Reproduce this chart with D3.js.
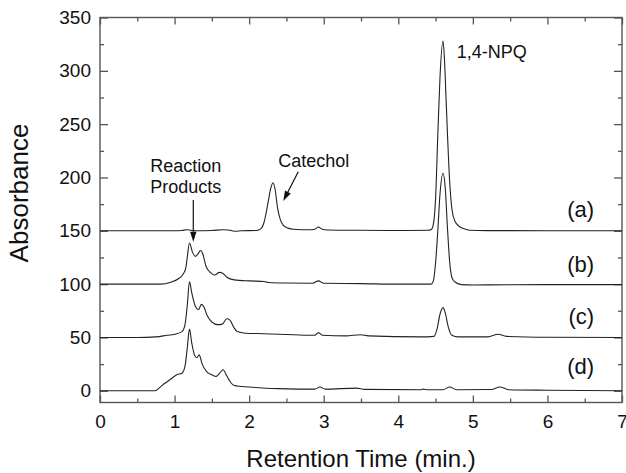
<!DOCTYPE html>
<html>
<head>
<meta charset="utf-8">
<script src="https://cdn.jsdelivr.net/npm/d3@7"></script>
<style>
  html, body { margin: 0; padding: 0; background: #fff; }
  svg { display: block; }
  text { font-family: "Liberation Sans", Arial, Helvetica, sans-serif; fill: #111; }
</style>
</head>
<body>
<svg id="chart" width="626" height="473"></svg>
<script>
// ---- data (retention time in min, absorbance) ----
const traceA = [[0,150],[0.5,150],[1.0,150],[1.1,150.3],[1.16,151],[1.22,150.5],[1.3,150],[1.5,150.3],[1.65,151],[1.72,150.8],[1.8,149.6],[1.9,150],[2.1,150.3],[2.16,152],[2.2,158],[2.25,175],[2.29,190],[2.32,195],[2.35,188],[2.38,172],[2.42,160],[2.46,155],[2.52,152.5],[2.6,151.5],[2.8,151],[2.88,151.5],[2.93,153.5],[2.98,151.5],[3.05,150.8],[3.5,150.5],[4.0,150.3],[4.4,150.5],[4.44,151],[4.47,156],[4.5,180],[4.53,240],[4.56,295],[4.6,328],[4.62,310],[4.64,275],[4.66,240],[4.69,195],[4.72,170],[4.76,159],[4.82,154],[4.9,151.5],[4.96,150.5],[5.2,150.2],[6,150],[7,150]];
const traceB = [[0,100],[0.5,100],[0.8,100],[0.95,101.8],[1.05,105],[1.12,110],[1.15,115],[1.17,125],[1.2,138.5],[1.24,130],[1.28,126],[1.31,128],[1.35,131.5],[1.38,128],[1.42,117],[1.48,111],[1.54,108.5],[1.6,111],[1.64,110.5],[1.7,106.5],[1.8,104],[2.0,103],[2.2,102.5],[2.26,101.5],[2.5,101],[2.85,100.8],[2.93,103],[3.0,100.8],[3.5,100.5],[4.0,100],[4.44,100],[4.47,103],[4.5,120],[4.53,150],[4.56,185],[4.6,204],[4.63,190],[4.66,152],[4.69,120],[4.72,106],[4.76,102],[4.85,99.5],[5.0,99.2],[5.2,99.3],[6,99.5],[7,99.5]];
const traceC = [[0,50],[0.5,50],[0.75,50.5],[0.9,52],[1.0,53],[1.1,55.5],[1.14,62],[1.17,80],[1.2,102.5],[1.23,92],[1.28,79],[1.32,76],[1.36,81],[1.39,79],[1.44,70],[1.5,64.5],[1.58,62],[1.64,62.5],[1.7,67.5],[1.74,66.5],[1.79,60],[1.84,55.5],[1.95,54],[2.2,53.5],[2.6,52.5],[2.88,52],[2.93,54.5],[2.98,52],[3.3,51.5],[3.49,52.5],[3.6,51.5],[4.3,50.5],[4.48,51],[4.52,58],[4.56,72],[4.6,78],[4.63,73],[4.67,60],[4.72,52],[4.8,50.5],[5.2,50.5],[5.34,53],[5.45,51],[6,50.2],[7,50]];
const traceD = [[0,0],[0.5,0],[0.74,0],[0.8,3],[0.87,7],[0.95,11],[1.03,15],[1.1,16.5],[1.14,23],[1.17,40],[1.2,57.8],[1.23,45],[1.27,33],[1.3,31],[1.33,33.7],[1.37,25],[1.43,18],[1.5,15],[1.56,13.5],[1.61,17],[1.65,19.7],[1.7,14],[1.75,8],[1.8,5],[2.0,3.5],[2.4,2],[2.88,1.5],[2.95,3.5],[3.02,1.5],[3.44,2.5],[3.55,1.3],[4.3,1],[4.33,1.5],[4.4,1],[4.6,1],[4.69,3.5],[4.78,1],[5.25,1.2],[5.36,3.5],[5.48,1],[6,0.5],[7,0]];

const traces = [traceA, traceB, traceC, traceD];
const traceLabels = ["(a)", "(b)", "(c)", "(d)"];
const traceLabelPos = [[6.625,163],[6.625,111.4],[6.625,62.9],[6.625,16]];

const xTicks = [0,1,2,3,4,5,6,7];
const xMinorTicks = [0.5,1.5,2.5,3.5,4.5,5.5,6.5];
const yTicks = [0,50,100,150,200,250,300,350];
const yMinorTicks = [25,75,125,175,225,275,325];

const xTitle = "Retention Time (min.)";
const yTitle = "Absorbance";

// annotations in data units
const annReaction = {lines:["Reaction","Products"], t:1.149, v:[204.9,185.2], arrowFrom:[1.251,178.9], arrowTo:[1.251,139.8]};
const annCatechol = {text:"Catechol", t:2.391, v:210.1, arrowFrom:[2.659,205.4], arrowTo:[2.458,178]};
const annNPQ = {text:"1,4-NPQ", t:4.783, v:312};

// ---- layout ----
const svg = d3.select("#chart");
const x = d3.scaleLinear().domain([0,7]).range([100,622]);
const y = d3.scaleLinear().domain([-11,350]).range([402.5,17.5]);
const frameColor = "#555";

// frame
svg.append("rect")
  .attr("x", x(0)).attr("y", y(350))
  .attr("width", x(7)-x(0)).attr("height", y(-11)-y(350))
  .attr("fill","none").attr("stroke",frameColor).attr("stroke-width",1.4);

function styleAxis(g){
  g.select(".domain").remove();
  g.selectAll(".tick line").attr("stroke",frameColor).attr("stroke-width",1.3);
  g.selectAll("text").attr("font-size","19px").attr("fill","#111")
    .attr("font-family","'Liberation Sans', Arial, sans-serif");
}

// bottom
svg.append("g").attr("transform",`translate(0,${y(-11)})`)
  .call(d3.axisBottom(x).tickValues(xTicks).tickSize(-7).tickPadding(12).tickFormat(d3.format("d")))
  .call(styleAxis);
svg.append("g").attr("transform",`translate(0,${y(-11)})`)
  .call(d3.axisBottom(x).tickValues(xMinorTicks).tickSize(-4).tickFormat(""))
  .call(styleAxis);
// top
svg.append("g").attr("transform",`translate(0,${y(350)})`)
  .call(d3.axisTop(x).tickValues(xTicks).tickSize(-7).tickFormat(""))
  .call(styleAxis);
svg.append("g").attr("transform",`translate(0,${y(350)})`)
  .call(d3.axisTop(x).tickValues(xMinorTicks).tickSize(-4).tickFormat(""))
  .call(styleAxis);
// left
svg.append("g").attr("transform",`translate(${x(0)},0)`)
  .call(d3.axisLeft(y).tickValues(yTicks).tickSize(-8).tickPadding(9).tickFormat(d3.format("d")))
  .call(styleAxis);
svg.append("g").attr("transform",`translate(${x(0)},0)`)
  .call(d3.axisLeft(y).tickValues(yMinorTicks).tickSize(-4).tickFormat(""))
  .call(styleAxis);
// right
svg.append("g").attr("transform",`translate(${x(7)},0)`)
  .call(d3.axisRight(y).tickValues(yTicks).tickSize(-8).tickFormat(""))
  .call(styleAxis);
svg.append("g").attr("transform",`translate(${x(7)},0)`)
  .call(d3.axisRight(y).tickValues(yMinorTicks).tickSize(-4).tickFormat(""))
  .call(styleAxis);

// traces
const line = d3.line().x(d=>x(d[0])).y(d=>y(d[1])).curve(d3.curveMonotoneX);
svg.append("g").selectAll("path").data(traces).join("path")
  .attr("d", line).attr("fill","none").attr("stroke","#222").attr("stroke-width",1.1)
  .attr("stroke-linejoin","round");

// trace labels
svg.append("g").selectAll("text").data(traceLabels).join("text")
  .attr("x",(d,i)=>x(traceLabelPos[i][0])).attr("y",(d,i)=>y(traceLabelPos[i][1]))
  .attr("text-anchor","end").attr("font-size","22px").text(d=>d);

// annotations
const ann = svg.append("g");
annReaction.lines.forEach((s,i)=>{
  ann.append("text").attr("x",x(annReaction.t)).attr("y",y(annReaction.v[i]))
    .attr("text-anchor","middle").attr("font-size","18px").text(s);
});
ann.append("text").attr("x",x(annCatechol.t)).attr("y",y(annCatechol.v))
  .attr("font-size","18px").text(annCatechol.text);
ann.append("text").attr("x",x(annNPQ.t)).attr("y",y(annNPQ.v))
  .attr("font-size","18px").text(annNPQ.text);

function arrow(from,to){
  const x1=x(from[0]), y1=y(from[1]), x2=x(to[0]), y2=y(to[1]);
  const ang=Math.atan2(y2-y1,x2-x1), L=10, W=3.2;
  const bx=x2-L*Math.cos(ang), by=y2-L*Math.sin(ang);
  ann.append("line").attr("x1",x1).attr("y1",y1).attr("x2",bx).attr("y2",by)
    .attr("stroke","#111").attr("stroke-width",1.2);
  const px=-Math.sin(ang)*W, py=Math.cos(ang)*W;
  ann.append("path").attr("d",`M${x2},${y2}L${bx+px},${by+py}L${bx-px},${by-py}Z`).attr("fill","#111");
}
arrow(annReaction.arrowFrom, annReaction.arrowTo);
arrow(annCatechol.arrowFrom, annCatechol.arrowTo);

// axis titles
svg.append("text").attr("x",(x(0)+x(7))/2).attr("y",467)
  .attr("text-anchor","middle").attr("font-size","24px").text(xTitle);
svg.append("text").attr("transform",`translate(28,193) rotate(-90)`)
  .attr("text-anchor","middle").attr("font-size","26px").text(yTitle);
</script>
</body>
</html>
